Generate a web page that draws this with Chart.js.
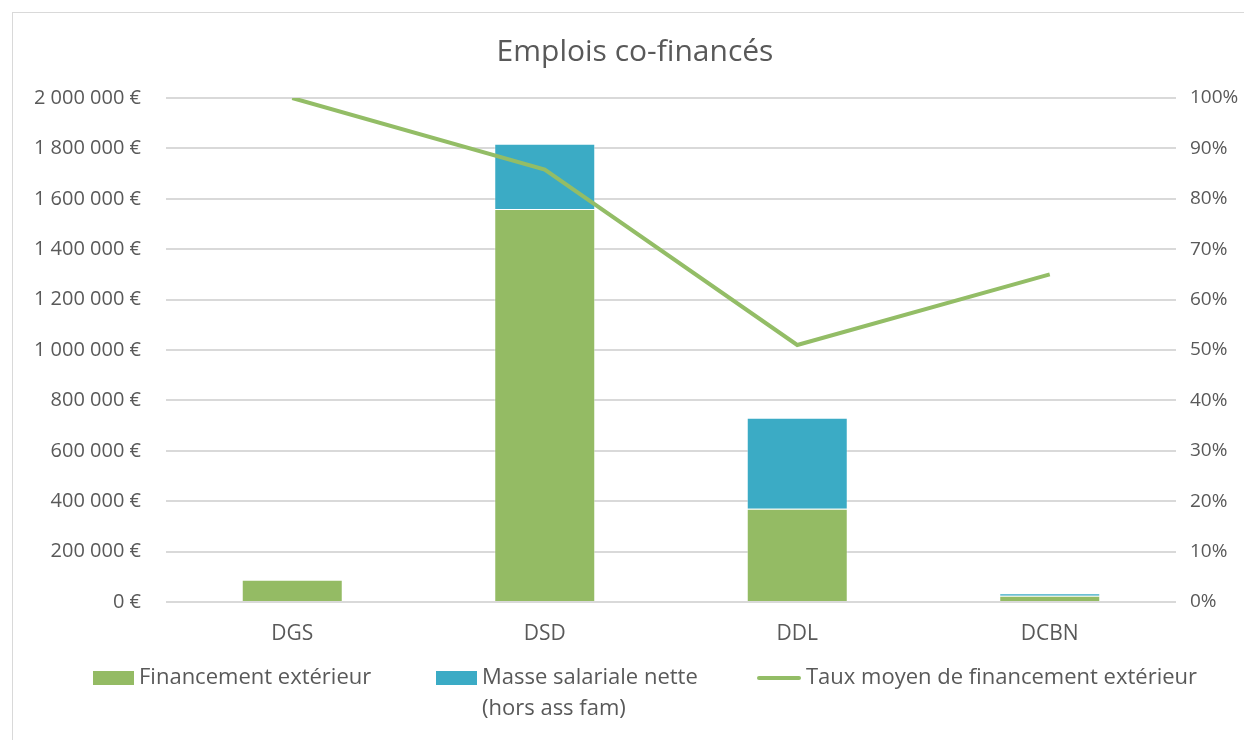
<!DOCTYPE html>
<html><head><meta charset="utf-8">
<script src="https://cdn.jsdelivr.net/npm/chart.js@4.4.1/dist/chart.umd.min.js"></script>
<style>html,body{margin:0;padding:0;background:#fff}#wrap{width:1244px;height:740px;position:relative}</style>
</head><body><div id="wrap"><canvas id="c" width="1244" height="740"></canvas></div>
<script>
const categories = ['DGS', 'DSD', 'DDL', 'DCBN'];
const financementExterieur = [88000, 1560000, 370000, 25000];
const masseSalariale = [0, 258000, 361000, 10000];
const tauxMoyen = [100, 85.8, 51, 65];
const titleText = 'Emplois co-financés';
const legendLabels = ['Financement extérieur', ['Masse salariale nette', '(hors ass fam)'], 'Taux moyen de financement extérieur'];

const GREEN = '#94bb64', BLUE = '#3babc5', LINE = '#93bd66', TXT = '#595959', GRID = '#d9d9d9';
const FONT = '"Open Sans", Lato, sans-serif';

function fmtEuro(v){ return String(Math.round(v)).replace(/\B(?=(\d{3})+(?!\d))/g, ' ') + ' €'; }

const decor = {
  id: 'decor',
  beforeDraw(chart){
    const ctx = chart.ctx;
    ctx.save();
    ctx.fillStyle = '#fff'; ctx.fillRect(0,0,chart.width,chart.height);
    ctx.strokeStyle = '#d9d9d9'; ctx.lineWidth = 1;
    ctx.strokeRect(12.5, 12.5, chart.width, chart.height);
    ctx.restore();
  },
  afterDraw(chart){
    const ctx = chart.ctx;
    ctx.save();
    ctx.fillStyle = TXT;
    ctx.font = '30px ' + FONT;
    ctx.textAlign = 'center'; ctx.textBaseline = 'middle';
    ctx.fillText(titleText, 635, 52);
    // legend
    ctx.font = '22px ' + FONT;
    ctx.textAlign = 'left';
    const ly = 678;
    ctx.fillStyle = chart.data.datasets[0].backgroundColor;
    ctx.fillRect(93, ly-7, 41, 14);
    ctx.fillStyle = TXT;
    ctx.fillText(legendLabels[0], 139, ly);
    ctx.fillStyle = chart.data.datasets[1].backgroundColor;
    ctx.fillRect(436, ly-7, 41, 14);
    ctx.fillStyle = TXT;
    legendLabels[1].forEach((t,i)=>ctx.fillText(t, 482, ly + i*31));
    ctx.strokeStyle = chart.data.datasets[2].borderColor;
    ctx.lineWidth = 4; ctx.lineCap = 'round';
    ctx.beginPath(); ctx.moveTo(759, ly); ctx.lineTo(799, ly); ctx.stroke();
    ctx.fillText(legendLabels[2], 806, ly);
    ctx.restore();
  }
};

new Chart(document.getElementById('c'), {
  type: 'bar',
  data: {
    labels: categories,
    datasets: [
      { type:'bar', label: 'Financement extérieur', data: financementExterieur, backgroundColor: GREEN, borderColor: 'rgba(255,255,255,0.4)', borderWidth: 1, yAxisID: 'y', stack: 's', order: 1, barPercentage: 0.4, categoryPercentage: 1 },
      { type:'bar', label: 'Masse salariale nette (hors ass fam)', data: masseSalariale, backgroundColor: BLUE, borderColor: 'rgba(255,255,255,0.4)', borderWidth: 1, yAxisID: 'y', stack: 's', order: 1, barPercentage: 0.4, categoryPercentage: 1 },
      { type:'line', label: 'Taux moyen de financement extérieur', data: tauxMoyen, borderColor: LINE, backgroundColor: LINE, borderWidth: 4, pointRadius: 0, tension: 0, yAxisID: 'y2', order: 0 }
    ]
  },
  options: {
    responsive: false, animation: false,
    devicePixelRatio: 1,
    layout: { padding: { top: 98, left: 0, right: 0, bottom: 0 } },
    plugins: { legend: { display: false }, title: { display: false }, tooltip: { enabled: false } },
    scales: {
      x: {
        stacked: true,
        grid: { display: false, drawTicks: false },
        border: { display: false },
        ticks: { color: TXT, font: { family: FONT, size: 21 }, padding: 19 },
        afterFit(s){ s.height = 138; }
      },
      y: {
        stacked: true, position: 'left', min: 0, max: 2000000,
        grid: { color: GRID, lineWidth: 2, drawTicks: false },
        border: { display: false },
        ticks: { stepSize: 200000, color: TXT, font: { family: FONT, size: 20 }, padding: 25, callback: v => fmtEuro(v) },
        afterFit(s){ s.width = 166; }
      },
      y2: {
        position: 'right', min: 0, max: 100,
        grid: { display: false, drawTicks: false },
        border: { display: false },
        ticks: { stepSize: 10, color: TXT, font: { family: FONT, size: 19 }, padding: 14, callback: v => v + '%' },
        afterFit(s){ s.width = 68; }
      }
    }
  },
  plugins: [decor]
});
</script></body></html>
